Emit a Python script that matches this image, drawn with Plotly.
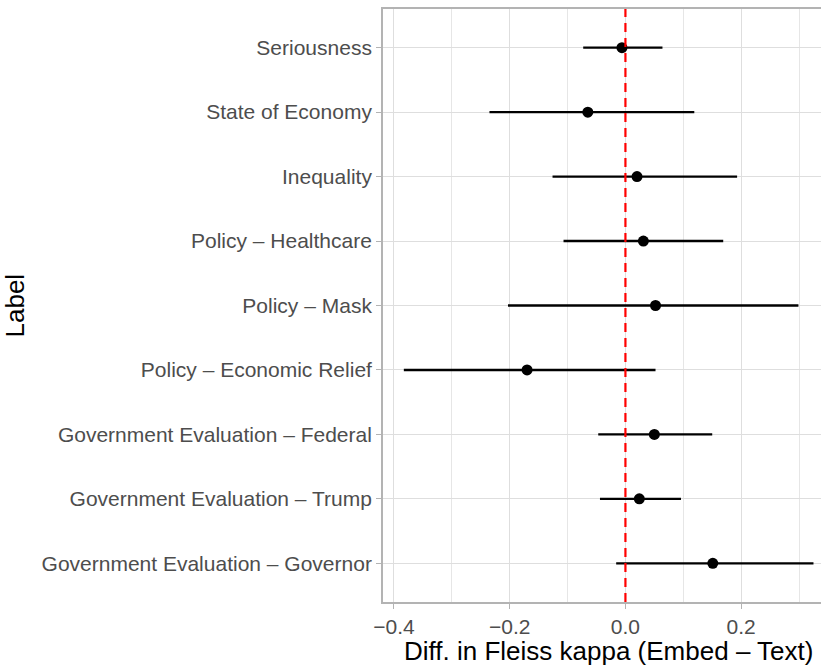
import plotly.graph_objects as go

labels = [
    "Seriousness",
    "State of Economy",
    "Inequality",
    "Policy – Healthcare",
    "Policy – Mask",
    "Policy – Economic Relief",
    "Government Evaluation – Federal",
    "Government Evaluation – Trump",
    "Government Evaluation – Governor",
]
estimate = [-0.006, -0.065, 0.020, 0.031, 0.052, -0.170, 0.050, 0.024, 0.151]
ci_low = [-0.073, -0.235, -0.126, -0.107, -0.203, -0.383, -0.047, -0.044, -0.016]
ci_high = [0.064, 0.119, 0.193, 0.169, 0.299, 0.052, 0.150, 0.096, 0.325]

x_ticks = [-0.4, -0.2, 0.0, 0.2]
x_tick_text = ["−0.4", "−0.2", "0.0", "0.2"]

err_plus = [h - e for h, e in zip(ci_high, estimate)]
err_minus = [e - l for e, l in zip(estimate, ci_low)]

FONT = "Liberation Sans, Arial, sans-serif"

fig = go.Figure()
fig.add_trace(go.Scatter(
    x=estimate, y=labels, mode="markers",
    marker=dict(color="black", size=11),
    error_x=dict(type="data", symmetric=False, array=err_plus,
                 arrayminus=err_minus, width=0, thickness=2.4, color="black"),
    showlegend=False, hoverinfo="skip",
))

fig.add_shape(type="line", xref="x", yref="paper", x0=0, x1=0, y0=0, y1=1,
              line=dict(color="#FF0000", width=2.2, dash="9px,6px"), layer="above")

fig.update_layout(
    width=821, height=666,
    margin=dict(l=383, r=0, t=9, b=64),
    paper_bgcolor="white", plot_bgcolor="white",
    font=dict(family=FONT),
    xaxis=dict(
        range=[-0.419, 0.338],
        tickvals=x_ticks, ticktext=x_tick_text,
        tickfont=dict(size=21, color="#4D4D4D"),
        ticks="outside", ticklen=5, tickcolor="#B3B3B3", tickwidth=1.2,
        showgrid=True, gridcolor="#DEDEDE", gridwidth=1.2,
        minor=dict(dtick=0.1, tick0=-0.3, showgrid=True, gridcolor="#E6E6E6", gridwidth=0.8, ticks=""),
        showline=True, linecolor="#B3B3B3", linewidth=1.8, mirror=True,
        zeroline=False,
    ),
    yaxis=dict(
        type="category", categoryorder="array", categoryarray=labels,
        range=[8.6, -0.6],
        tickfont=dict(size=21, color="#4D4D4D"),
        ticks="outside", ticklen=5, tickcolor="#B3B3B3", tickwidth=1.2,
        showgrid=True, gridcolor="#DEDEDE", gridwidth=1.2,
        showline=True, linecolor="#B3B3B3", linewidth=1.8,
        zeroline=False,
    ),
    annotations=[
        dict(text="Diff. in Fleiss kappa (Embed – Text)", xref="paper", yref="paper",
             x=(608.5 - 383) / 438, y=0, xanchor="center", yanchor="top",
             yshift=-32, showarrow=False, font=dict(size=26, color="black", family=FONT)),
        dict(text="Label", xref="paper", yref="paper", x=0, y=0.5,
             xanchor="left", yanchor="middle", xshift=-383 - 3, textangle=-90,
             showarrow=False, font=dict(size=26, color="black", family=FONT)),
    ],
)

fig.write_html("out.html", config={"displayModeBar": False})

with open("out.html", "r", encoding="utf-8") as f:
    html = f.read()
html = html.replace("<body>", '<body style="margin:0;padding:0;overflow:hidden">', 1)
html = html.replace("<head>", '<head><style>html,body{margin:0;padding:0;overflow:hidden}</style>', 1)
with open("out.html", "w", encoding="utf-8") as f:
    f.write(html)
